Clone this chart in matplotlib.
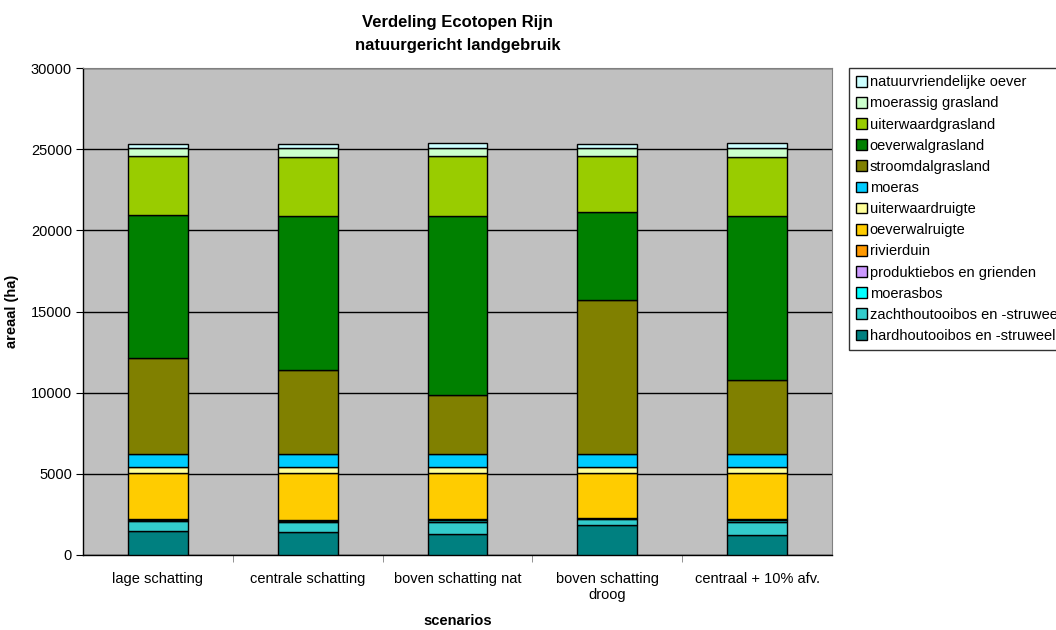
import matplotlib.pyplot as plt
import numpy as np

plt.rcParams['font.family'] = ['Liberation Sans', 'DejaVu Sans']

# Scenario names and areas (ha) per ecotope, bottom to top of the stack
scenarios = ['lage schatting', 'centrale schatting', 'boven schatting nat',
             'boven schatting\ndroog', 'centraal + 10% afv.']

ecotopes = ['hardhoutooibos en -struweel', 'zachthoutooibos en -struweel',
            'moerasbos', 'produktiebos en grienden', 'rivierduin',
            'oeverwalruigte', 'uiterwaardruigte', 'moeras',
            'stroomdalgrasland', 'oeverwalgrasland', 'uiterwaardgrasland',
            'moerassig grasland', 'natuurvriendelijke oever']

hardhout = [1480, 1400, 1280, 1830, 1250]
zachthout = [620, 660, 760, 410, 790]
moerasbos = [60, 50, 120, 20, 120]
produktiebos = [0, 0, 0, 0, 0]
rivierduin = [60, 60, 40, 50, 40]
oeverwalruigte = [2820, 2870, 2840, 2730, 2840]
uiterwaardruigte = [370, 370, 370, 370, 370]
moeras = [800, 800, 800, 840, 800]
stroomdalgrasland = [5950, 5170, 3670, 9430, 4590]
oeverwalgrasland = [8770, 9500, 11020, 5470, 10100]
uiterwaardgrasland = [3620, 3620, 3650, 3420, 3600]
moerassig_grasland = [550, 600, 550, 510, 600]
natuurvriendelijke_oever = [230, 230, 270, 210, 310]

series = [hardhout, zachthout, moerasbos, produktiebos, rivierduin,
          oeverwalruigte, uiterwaardruigte, moeras, stroomdalgrasland,
          oeverwalgrasland, uiterwaardgrasland, moerassig_grasland,
          natuurvriendelijke_oever]

colors = ['#008080', '#33CCCC', '#00FFFF', '#CC99FF', '#FF9900',
          '#FFCC00', '#FFFF99', '#00CCFF', '#808000', '#008000',
          '#99CC00', '#CCFFCC', '#CCFFFF']

fig = plt.figure(figsize=(10.56, 6.3), dpi=100)
ax = fig.add_axes([83 / 1056, 75 / 630, 749 / 1056, 487 / 630])
ax.set_facecolor('#C0C0C0')

x = np.arange(len(scenarios))
bottom = np.zeros(len(scenarios))
handles = []
for name, vals, col in zip(ecotopes, series, colors):
    b = ax.bar(x, vals, width=0.4, bottom=bottom, color=col,
               edgecolor='black', linewidth=1.0, label=name, zorder=3)
    handles.append(b)
    bottom += np.array(vals)

ax.set_xlim(-0.5, len(scenarios) - 0.5)
ax.set_ylim(0, 30000)
ax.set_yticks(np.arange(0, 30001, 5000))
ax.yaxis.grid(True, color='black', linewidth=1.0, zorder=1)
ax.set_axisbelow(True)

ax.set_xticks(x)
ax.set_xticklabels(scenarios, fontsize=10.5)
ax.set_xticks(np.arange(0.5, len(scenarios) - 0.5), minor=True)
ax.tick_params(axis='x', which='major', length=0, pad=12)
ax.tick_params(axis='x', which='minor', length=5, direction='out', color='#808080')
ax.tick_params(axis='y', labelsize=10.5, length=5, direction='out', pad=3)

for side in ['left', 'bottom']:
    ax.spines[side].set_color('black')
    ax.spines[side].set_linewidth(1.0)
for side in ['top', 'right']:
    ax.spines[side].set_color('#808080')
    ax.spines[side].set_linewidth(0.8)

ax.set_xlabel('scenarios', fontsize=10.5, fontweight='bold')
ax.xaxis.set_label_coords(0.5, -0.122)
ax.set_ylabel('areaal (ha)', fontsize=10.5, fontweight='bold')
ax.yaxis.set_label_coords(-0.0855, 0.5)
ax.set_title('Verdeling Ecotopen Rijn\nnatuurgericht landgebruik',
             fontsize=12, fontweight='bold', pad=13, linespacing=1.7)

leg = fig.legend(handles[::-1], ecotopes[::-1], loc='upper left',
                 bbox_to_anchor=(849 / 1056, 562 / 630), borderaxespad=0,
                 fontsize=10.5, frameon=True, fancybox=False,
                 handlelength=0.7, handleheight=0.75, handletextpad=0.22,
                 labelspacing=0.49, borderpad=0.5)
leg.get_frame().set_edgecolor('black')
leg.get_frame().set_linewidth(1.0)

fig.savefig('out.png', dpi=100)
